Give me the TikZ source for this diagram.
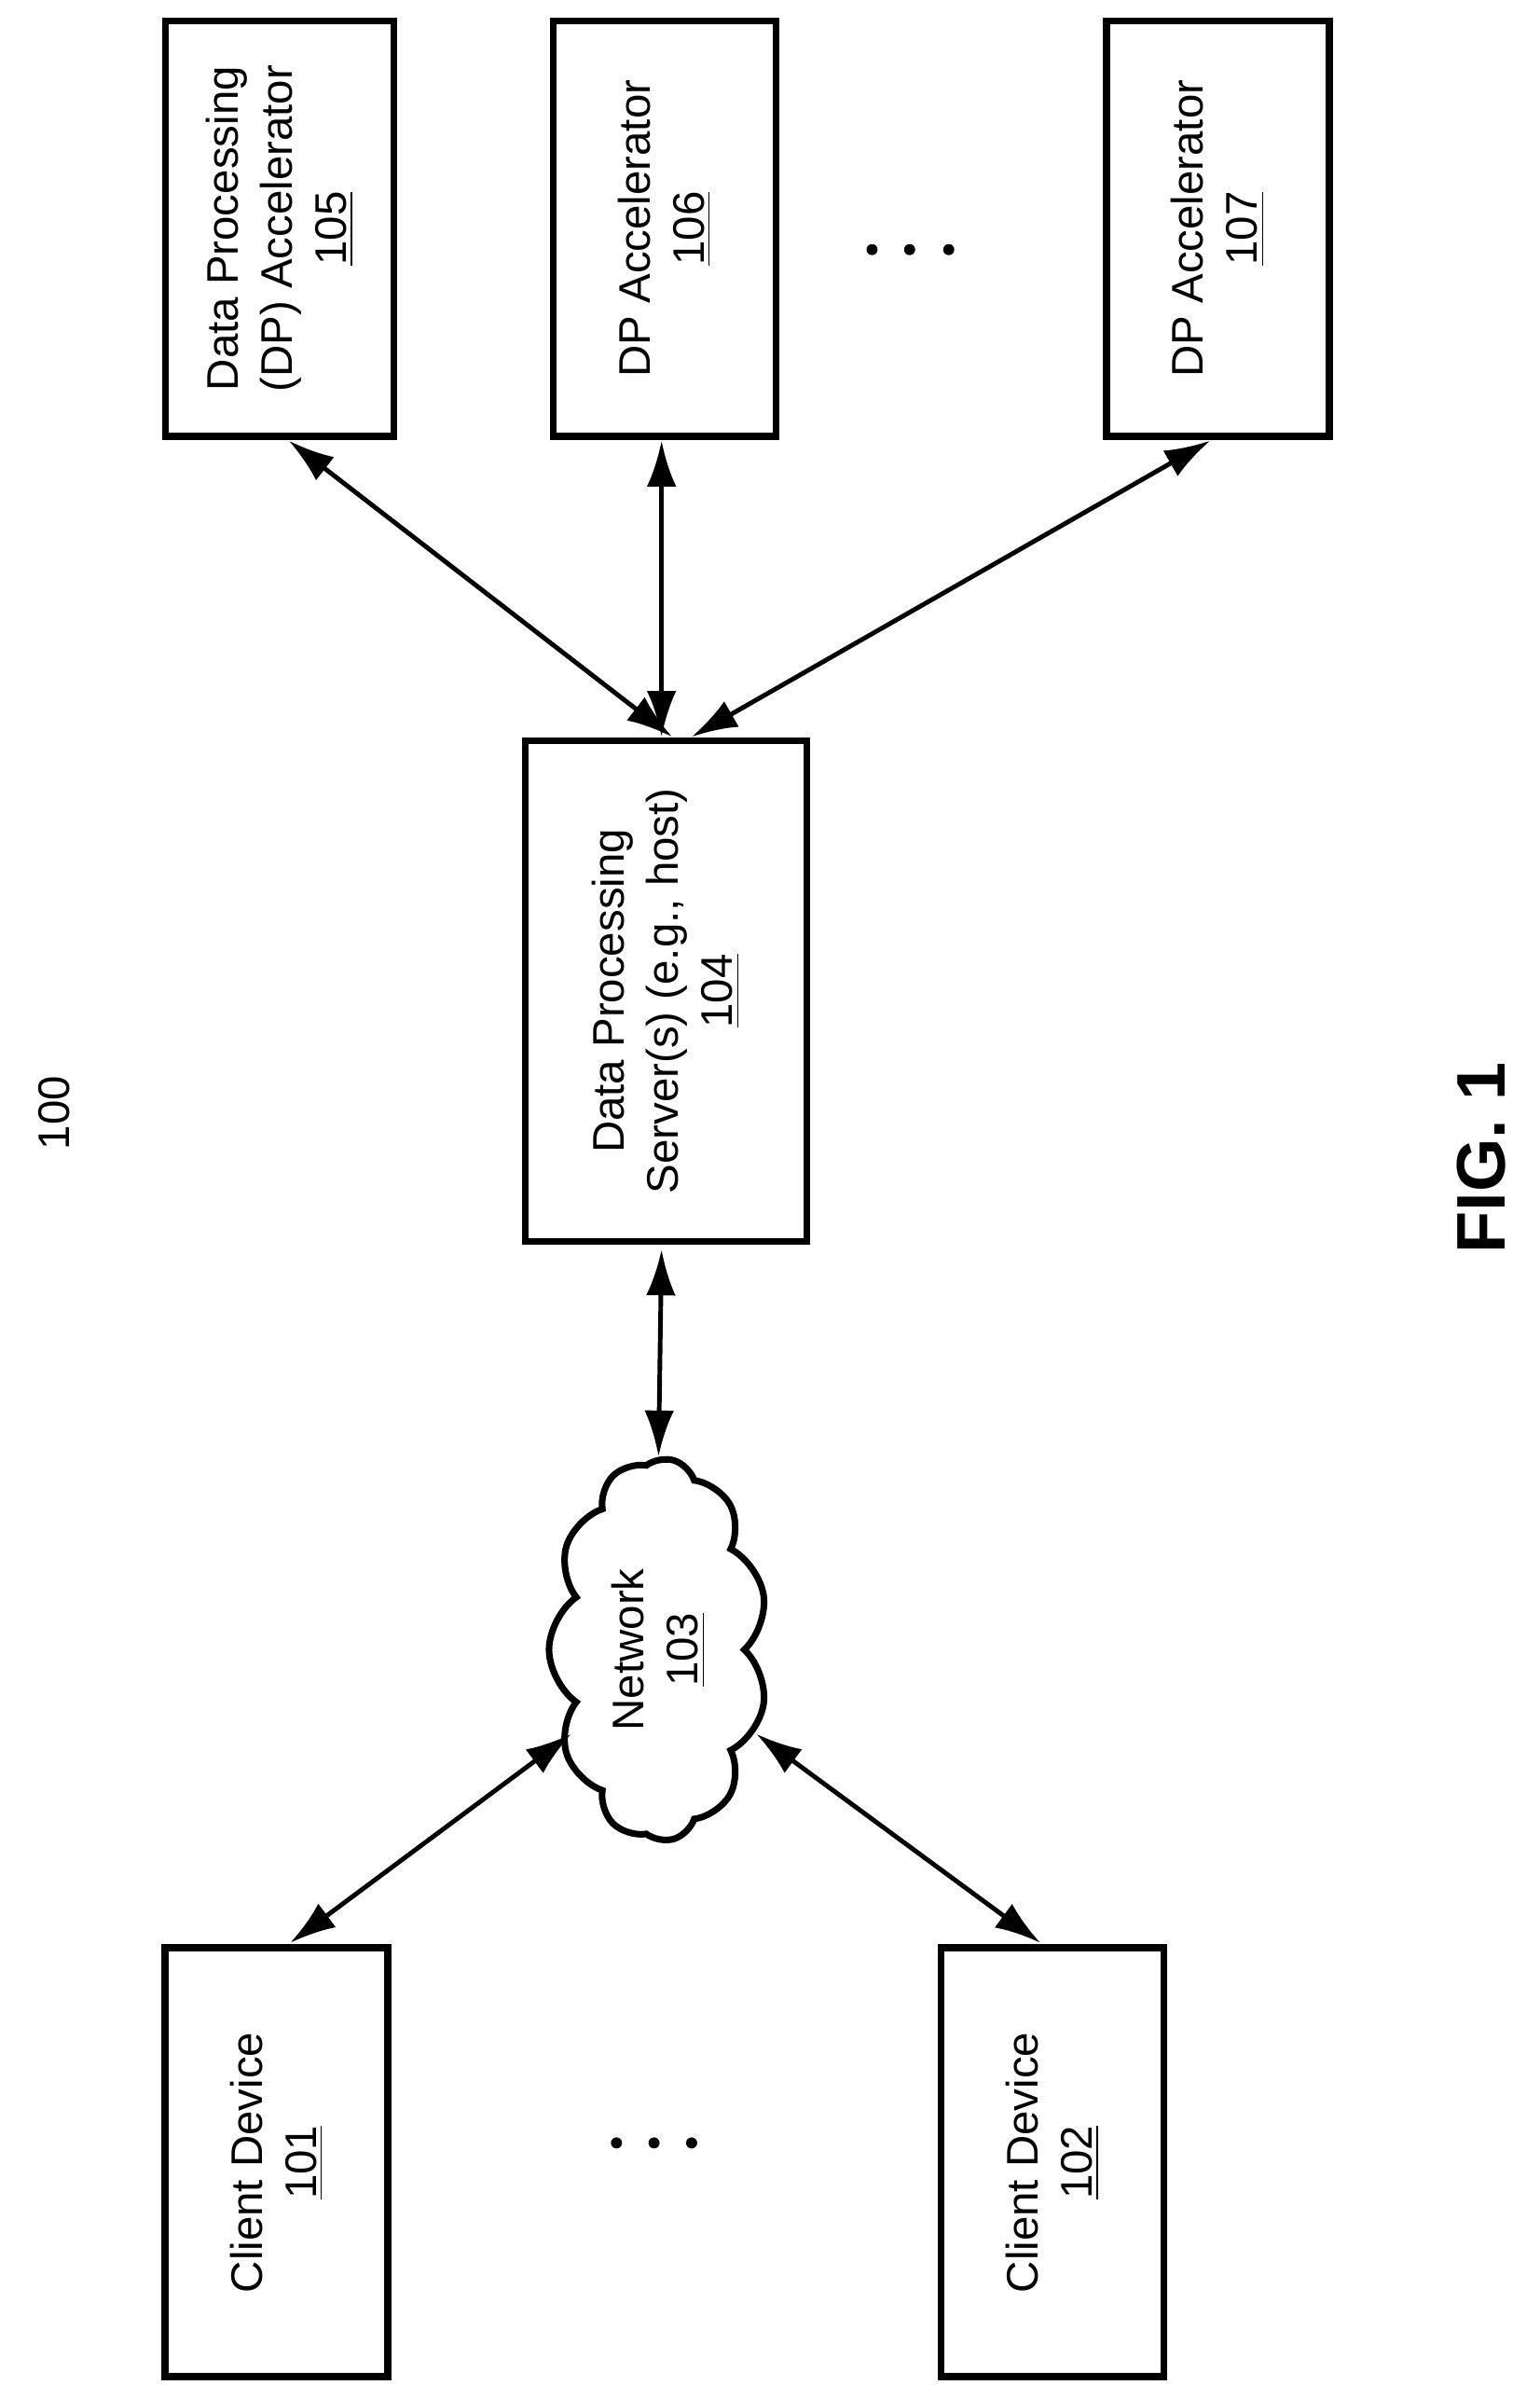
\documentclass[tikz,border=0pt]{standalone}
\usepackage{fontspec}
\setmainfont{Liberation Sans}
\usetikzlibrary{positioning,arrows.meta,shapes.symbols}
\tikzset{
    block/.style = {
        draw,
        shape=rectangle,
        rotate=90,
        align=center,
        line width=2.2pt,
        font=\fontsize{13.5}{16.5}\selectfont
    },
    cloudy/.style = {
        draw,
        shape=cloud,
        cloud puffs=11,
        cloud puff arc=110,
        aspect=1.7,
        rotate=90,
        align=center,
        line width=2pt,
        inner sep=0pt,
        font=\fontsize{13.5}{16.5}\selectfont
    },
    link/.style = {
        line width=1.4pt,
        {Latex[length=14pt,width=9pt]}-{Latex[length=14pt,width=9pt]}
    },
    dot/.style = {fill, circle, inner sep=1.2pt},
}
\begin{document}
\begin{tikzpicture}[x=0.01613cm, y=-0.01613cm]
    \useasboundingbox (0,0) rectangle (1024,1586);

    \node[block, minimum width=4.45cm, minimum height=2.45cm] (acc105) at (186,152) {Data Processing\\(DP) Accelerator\\\underline{105}};
    \node[block, minimum width=4.45cm, minimum height=2.39cm] (acc106) at (442,152) {DP Accelerator\\\underline{106}};
    \node[block, minimum width=4.45cm, minimum height=2.39cm] (acc107) at (810,152) {DP Accelerator\\\underline{107}};
    \node[block, minimum width=5.37cm, minimum height=3.02cm] (srv) at (443,659) {Data Processing\\Server(s) (e.g., host)\\\underline{104}};
    \node[cloudy, minimum width=4.1cm, minimum height=2.35cm] (net) at (438,1097) {Network\\\underline{103}};
    \node[block, minimum width=4.6cm, minimum height=2.39cm] (cli101) at (184,1438) {Client Device\\\underline{101}};
    \node[block, minimum width=4.6cm, minimum height=2.39cm] (cli102) at (700,1438) {Client Device\\\underline{102}};

    \node[rotate=90, font=\fontsize{13.5}{16}\selectfont] (lbl) at (36,740) {100};
    \node[rotate=90, font=\fontsize{21}{24}\bfseries] (fig) at (985,770) {FIG. 1};

    % dots between boxes
    \node[dot] (d1) at (580,166) {};
    \node[dot] (d2) at (605,166) {};
    \node[dot] (d3) at (631,166) {};
    \node[dot] (d4) at (410,1425) {};
    \node[dot] (d5) at (435,1425) {};
    \node[dot] (d6) at (460,1425) {};

    \coordinate (a105) at (192,293);
    \coordinate (a106) at (440,293);
    \coordinate (a107) at (805,293);
    \coordinate (s105) at (447,490);
    \coordinate (s106) at (440,490);
    \coordinate (s107) at (460,490);
    \coordinate (n101) at (380,1153);
    \coordinate (n102) at (503,1153);
    \coordinate (c101) at (193,1292);
    \coordinate (c102) at (692,1292);
    \draw[link] (a105) -- (s105);
    \draw[link] (a106) -- (s106);
    \draw[link] (a107) -- (s107);
    \draw[link] (srv.west) ++(-3,3) -- (net.east);
    \draw[link] (n101) -- (c101);
    \draw[link] (n102) -- (c102);
\end{tikzpicture}
\end{document}
